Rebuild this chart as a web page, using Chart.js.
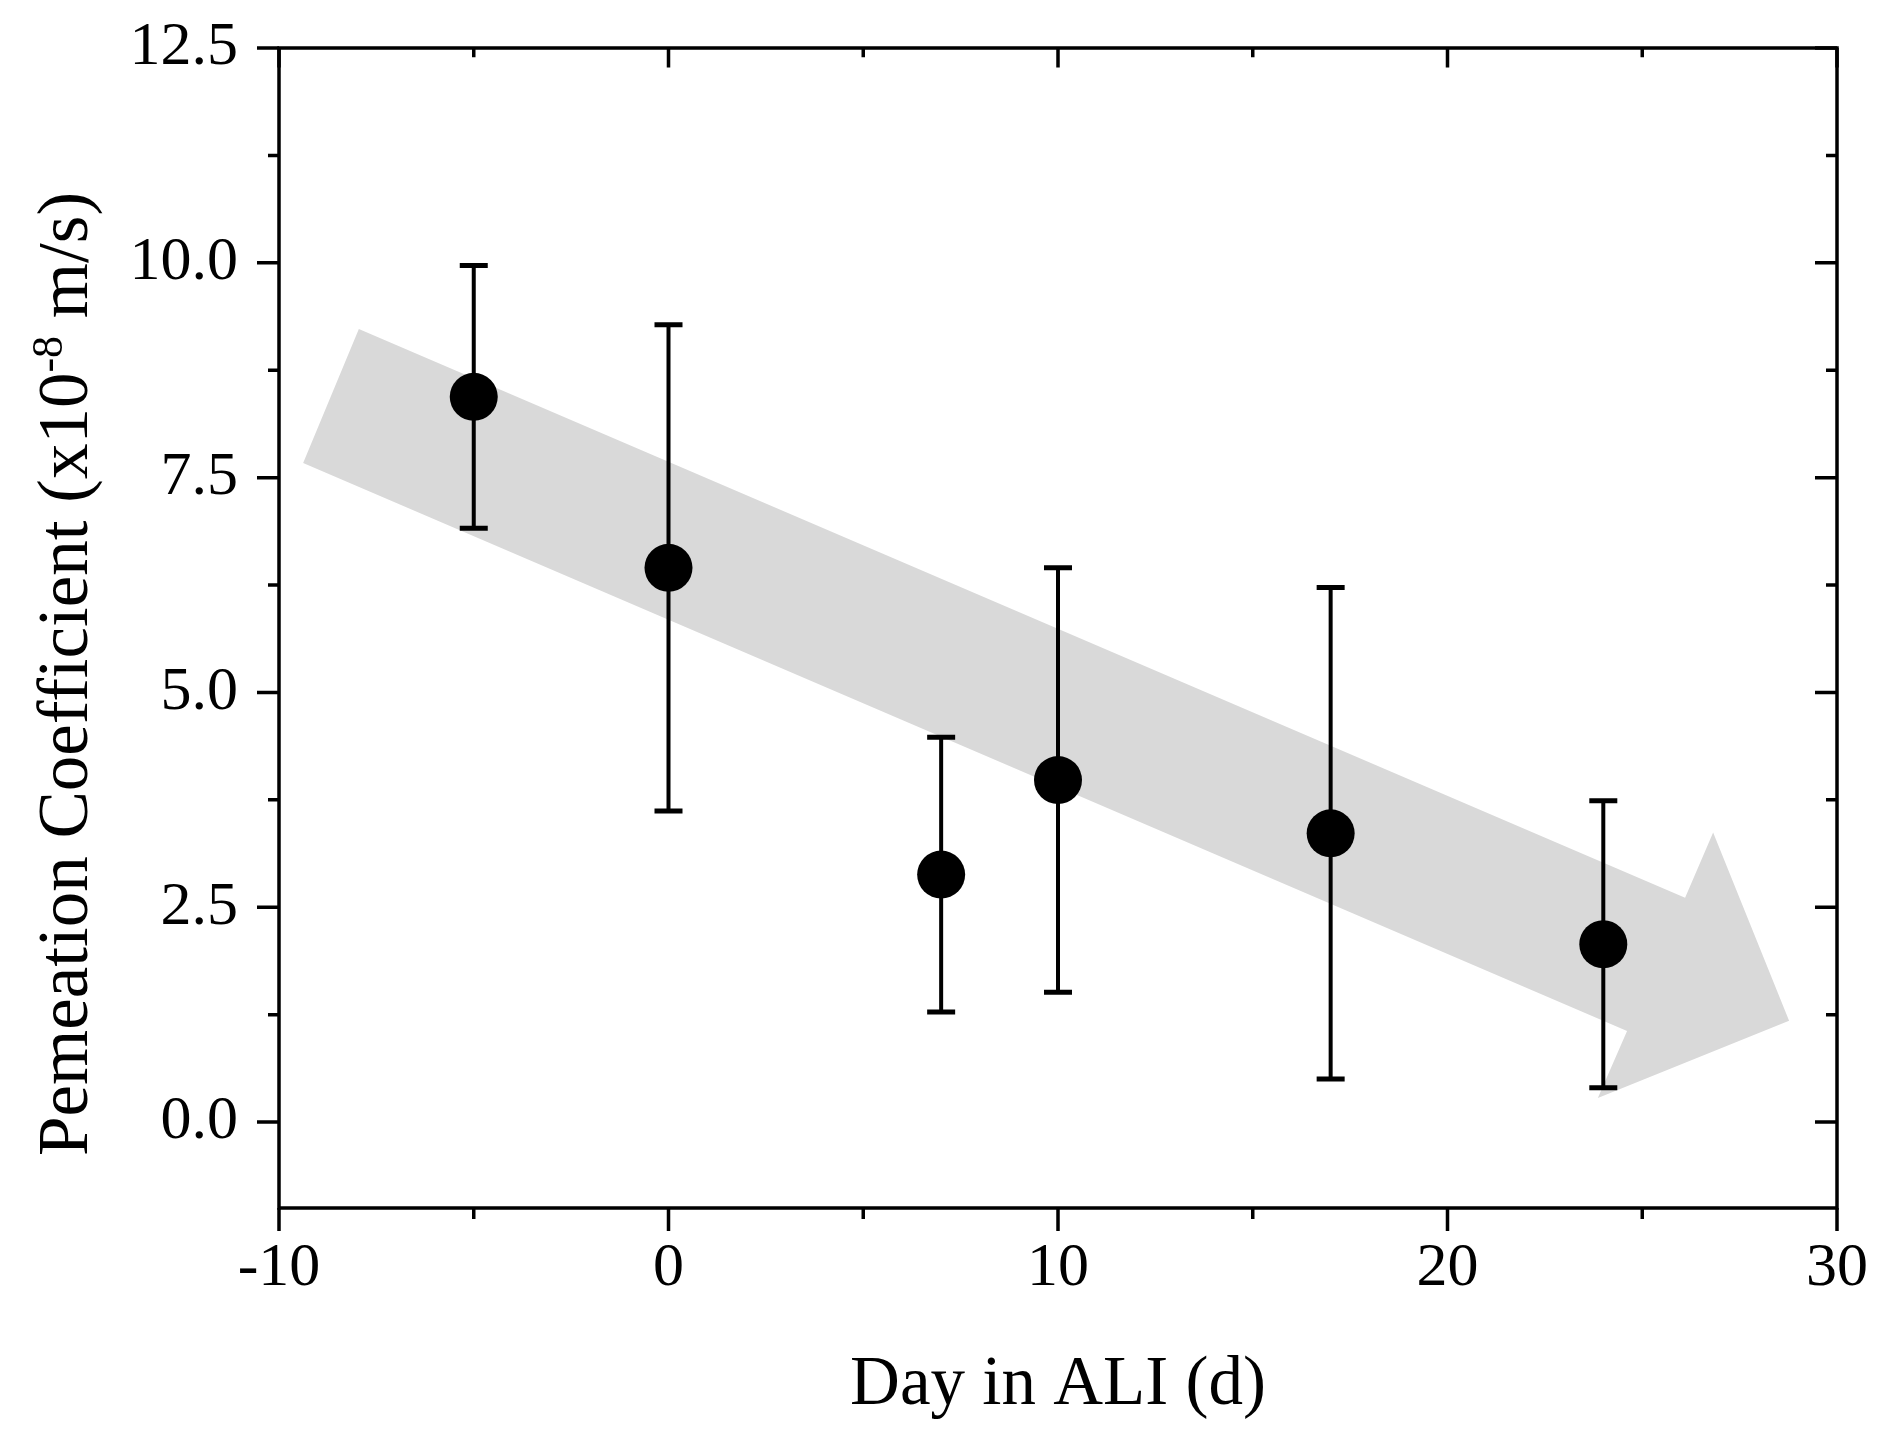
<!DOCTYPE html>
<html>
<head>
<meta charset="utf-8">
<script src="https://cdn.jsdelivr.net/npm/chart.js@4.4.1/dist/chart.umd.min.js"></script>
<style>
  html, body { margin: 0; padding: 0; background: #fff; }
  #wrap { width: 1885px; height: 1437px; }
</style>
</head>
<body>
<div id="wrap"><canvas id="permChart" width="1885" height="1437"></canvas></div>
<script>
const days = [-5, 0, 7, 10, 17, 24]
const permMean = [8.44, 6.45, 2.88, 3.98, 3.36, 2.07]
const permErr = [1.53, 2.83, 1.60, 2.47, 2.86, 1.67]

const xTicks = [-10, 0, 10, 20, 30]
const xMinorTicks = [-5, 5, 15, 25]
const yTicks = [0, 2.5, 5, 7.5, 10, 12.5]
const yMinorTicks = [1.25, 3.75, 6.25, 8.75, 11.25]

// grey trend arrow outline, in data units (day, coefficient)
const arrowDays = [-7.95, 26.10, 26.82, 28.77, 23.86, 24.61, -9.38]
const arrowValues = [9.23, 2.61, 3.37, 1.18, 0.28, 1.06, 7.67]

const serif = "'Liberation Serif', 'Times New Roman', serif"

const arrowPlugin = {
    id: 'trendArrow',
    beforeDatasetsDraw(chart) {
        const {ctx, scales: {x, y}} = chart
        ctx.save()
        ctx.fillStyle = '#d9d9d9'
        ctx.beginPath()
        for (let i = 0; i < arrowDays.length; i++) {
            const px = x.getPixelForValue(arrowDays[i])
            const py = y.getPixelForValue(arrowValues[i])
            if (i === 0) ctx.moveTo(px, py)
            else ctx.lineTo(px, py)
        }
        ctx.closePath()
        ctx.fill()
        ctx.restore()
    }
}

const errorBarPlugin = {
    id: 'errorBars',
    beforeDatasetsDraw(chart) {
        const {ctx, scales: {x, y}} = chart
        ctx.save()
        ctx.strokeStyle = '#000'
        for (let i = 0; i < days.length; i++) {
            const px = x.getPixelForValue(days[i])
            const top = y.getPixelForValue(permMean[i] + permErr[i])
            const bot = y.getPixelForValue(permMean[i] - permErr[i])
            ctx.lineWidth = 4
            ctx.beginPath()
            ctx.moveTo(px, top)
            ctx.lineTo(px, bot)
            ctx.stroke()
            ctx.lineWidth = 5
            ctx.beginPath()
            ctx.moveTo(px - 14, top)
            ctx.lineTo(px + 14, top)
            ctx.moveTo(px - 14, bot)
            ctx.lineTo(px + 14, bot)
            ctx.stroke()
        }
        ctx.restore()
    }
}

const framePlugin = {
    id: 'frame',
    afterDraw(chart) {
        const {ctx, chartArea: a, scales: {x, y}} = chart
        ctx.save()
        ctx.strokeStyle = '#000'
        ctx.lineWidth = 3.5
        ctx.strokeRect(a.left, a.top, a.right - a.left, a.bottom - a.top)
        ctx.beginPath()
        const tick = (vals, len) => {
            vals.forEach(v => {
                const px = x.getPixelForValue(v)
                ctx.moveTo(px, a.bottom)
                ctx.lineTo(px, a.bottom + len)
                ctx.moveTo(px, a.top)
                ctx.lineTo(px, a.top + len * 0.85)
            })
        }
        tick(xTicks, 23)
        tick(xMinorTicks, 11)
        const ytick = (vals, len) => {
            vals.forEach(v => {
                const py = y.getPixelForValue(v)
                ctx.moveTo(a.left - len, py)
                ctx.lineTo(a.left, py)
                ctx.moveTo(a.right, py)
                ctx.lineTo(a.right - len, py)
            })
        }
        ytick(yTicks, 22)
        ytick(yMinorTicks, 11)
        ctx.stroke()
        ctx.restore()
    }
}

const yTitlePlugin = {
    id: 'yTitle',
    afterDraw(chart) {
        const {ctx, chartArea: a} = chart
        const main = '71px ' + serif
        const sup = '44px ' + serif
        const p1 = 'Pemeation Coefficient (x10'
        const p2 = '-8'
        const p3 = ' m/s)'
        ctx.save()
        ctx.font = main
        const w1 = ctx.measureText(p1).width
        const w3 = ctx.measureText(p3).width
        ctx.font = sup
        const w2 = ctx.measureText(p2).width
        const total = w1 + w2 + w3
        ctx.translate(87, (a.top + a.bottom) / 2 + 46)
        ctx.rotate(-Math.PI / 2)
        ctx.fillStyle = '#000'
        ctx.textBaseline = 'alphabetic'
        ctx.textAlign = 'left'
        let cx = -total / 2
        ctx.font = main
        ctx.fillText(p1, cx, 0)
        cx += w1
        ctx.font = sup
        ctx.fillText(p2, cx, -25)
        cx += w2
        ctx.font = main
        ctx.fillText(p3, cx, 0)
        ctx.restore()
    }
}

new Chart(document.getElementById('permChart'), {
    type: 'scatter',
    data: {
        datasets: [{
            label: 'Permeation coefficient',
            data: days.map((d, i) => ({x: d, y: permMean[i]})),
            backgroundColor: '#000',
            borderWidth: 0,
            pointRadius: 24,
            pointHoverRadius: 24
        }]
    },
    options: {
        responsive: false,
        animation: false,
        devicePixelRatio: 1,
        events: [],
        layout: {padding: {top: 48, right: 48, bottom: 0, left: 0}},
        plugins: {
            legend: {display: false},
            tooltip: {enabled: false}
        },
        scales: {
            x: {
                type: 'linear',
                min: -10,
                max: 30,
                afterBuildTicks: s => { s.ticks = xTicks.map(v => ({value: v})) },
                afterFit: s => {
                    s.height = 229
                    s.paddingLeft = 0
                    s.paddingRight = 0
                },
                grid: {display: false, drawTicks: false},
                border: {display: false},
                ticks: {
                    color: '#000',
                    font: {family: serif, size: 62},
                    padding: 24,
                    maxRotation: 0,
                    autoSkip: false,
                    callback: v => String(v)
                },
                title: {
                    display: true,
                    text: 'Day in ALI (d)',
                    color: '#000',
                    font: {family: serif, size: 69},
                    padding: {top: 0, bottom: 10}
                }
            },
            y: {
                type: 'linear',
                min: -1,
                max: 12.5,
                afterBuildTicks: s => { s.ticks = yTicks.map(v => ({value: v})) },
                afterFit: s => {
                    s.width = 279
                    s.paddingTop = 0
                    s.paddingBottom = 0
                },
                grid: {display: false, drawTicks: false},
                border: {display: false},
                ticks: {
                    color: '#000',
                    font: {family: serif, size: 62},
                    padding: 41,
                    autoSkip: false,
                    callback: v => v.toFixed(1)
                }
            }
        }
    },
    plugins: [arrowPlugin, errorBarPlugin, framePlugin, yTitlePlugin]
})
</script>
</body>
</html>
